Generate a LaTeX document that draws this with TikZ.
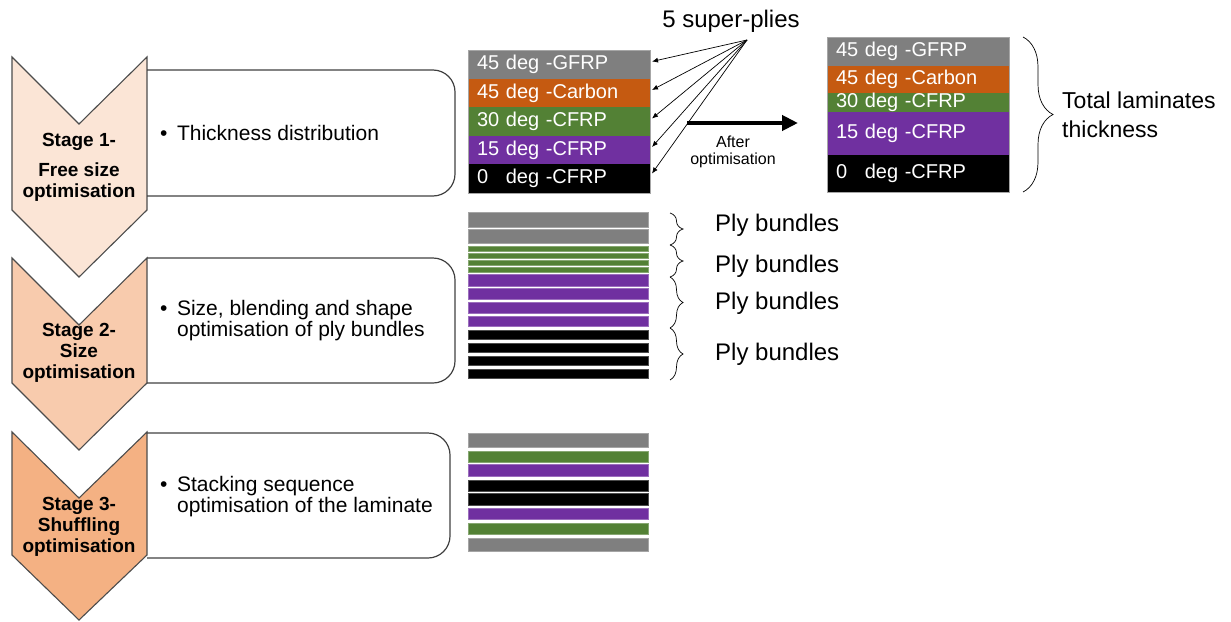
\documentclass[tikz,border=0pt]{standalone}
\usepackage{fontspec}
\setmainfont{Liberation Sans}
\usepackage{tikz}
\usetikzlibrary{arrows.meta, positioning, decorations.pathreplacing}
\tikzset{>=latex}

\definecolor{gfrp}{HTML}{7F7F7F}
\definecolor{carbon}{HTML}{C55A11}
\definecolor{cfrpgreen}{HTML}{538135}
\definecolor{cfrppurple}{HTML}{7030A0}
\definecolor{stageone}{HTML}{FBE5D6}
\definecolor{stagetwo}{HTML}{F8CBAD}
\definecolor{stagethree}{HTML}{F4B183}

\tikzset{chevron/.style = {draw=black!70, line width=1.1pt, fill=#1}}
\tikzset{stagebox/.style = {draw=black!75, line width=1.2pt, rounded corners=22pt}}
\tikzset{stagetxt/.style = {align=center, inner sep=0pt, font=\fontsize{19}{21}\selectfont\bfseries}}
\tikzset{bullettxt/.style = {align=left, inner sep=0pt, font=\fontsize{21}{21}\selectfont}}
\tikzset{ply/.style = {fill=#1, text=white, minimum width=182pt, text width=164pt, inner xsep=9pt,
    inner ysep=0pt, outer sep=0pt, text height=14pt, text depth=4pt, align=left,
    font=\fontsize{20}{22}\selectfont}}
\tikzset{bar/.style = {fill=#1, draw=#1!70!white, line width=0.6pt}}
\tikzset{fanarrow/.style = {-{Latex[length=6pt,width=5pt]}, line width=0.7pt}}
\tikzset{bigarrow/.style = {-{Triangle[length=16pt,width=15pt]}, line width=4pt}}
\tikzset{plybrace/.style = {decorate, decoration={brace, amplitude=#1}, line width=0.7pt}}
\tikzset{bundletxt/.style = {anchor=west, inner sep=0pt, font=\fontsize{24}{26}\selectfont}}

\begin{document}
\begin{tikzpicture}[x=1pt, y=-1pt]
\useasboundingbox (0,0) rectangle (1231,621);

% Stage chevrons
\draw[chevron=stageone] (12,57) -- (79,124) -- (147,57) -- (147,210) -- (79,277) -- (12,210) -- cycle;
\draw[chevron=stagetwo] (12,258) -- (79,325) -- (147,258) -- (147,383) -- (79,450) -- (12,383) -- cycle;
\draw[chevron=stagethree] (12,432) -- (79,498) -- (147,432) -- (147,555) -- (79,620) -- (12,555) -- cycle;

% Boxes beside the chevrons
\draw[stagebox] (147,70) -- (455,70) -- (455,196) -- (147,196);
\draw[stagebox] (147,258) -- (455,258) -- (455,383) -- (147,383);
\draw[stagebox] (147,433) -- (450,433) -- (450,558) -- (147,558);

\node[stagetxt] (s1) at (79,167) {Stage 1-\\[9pt]Free size\\optimisation};
\node[stagetxt] (s2) at (79,353) {Stage 2-\\Size\\optimisation};
\node[stagetxt] (s3) at (79,527) {Stage 3-\\Shuffling\\optimisation};

\node[bullettxt, anchor=base west] (t1) at (160,140) {\textbullet\hspace{9.5pt}Thickness distribution};
\node[bullettxt, anchor=west] (t2) at (160,321) {\textbullet\hspace{9.5pt}Size, blending and shape\\\hspace*{16.9pt}optimisation of ply bundles};
\node[bullettxt, anchor=west] (t3) at (160,497) {\textbullet\hspace{9.5pt}Stacking sequence\\\hspace*{16.9pt}optimisation of the laminate};

% Super-plies before optimisation
\node[ply=gfrp, minimum height=29pt, anchor=north] (a1) at (559,50) {45 deg -GFRP};
\node[ply=carbon, minimum height=28pt, below=0pt of a1] (a2) {45 deg -Carbon};
\node[ply=cfrpgreen, minimum height=29pt, below=0pt of a2] (a3) {30 deg -CFRP};
\node[ply=cfrppurple, minimum height=28pt, below=0pt of a3] (a4) {15 deg -CFRP};
\node[ply=black, minimum height=29pt, below=0pt of a4] (a5) {0\hspace{11pt} deg -CFRP};
\draw[gray!70, line width=0.6pt] (a1.north west) rectangle (a5.south east);

\node[font=\fontsize{24}{26}\selectfont, inner sep=0pt] (sp) at (731,21) {5 super-plies};
\coordinate (fan) at (747,40);
\draw[fanarrow] (fan) -- ([xshift=2pt, yshift=3pt]a1.east);
\draw[fanarrow] (fan) -- ([xshift=2pt, yshift=3pt]a2.east);
\draw[fanarrow] (fan) -- ([xshift=2pt, yshift=3pt]a3.east);
\draw[fanarrow] (fan) -- ([xshift=2pt, yshift=3pt]a4.east);
\draw[fanarrow] (fan) -- ([xshift=2pt, yshift=5pt]a5.east);

% Thick arrow to the optimised laminate
\coordinate (ao1) at (687,123);
\coordinate (ao2) at (798,123);
\draw[bigarrow] (ao1) -- (ao2);
\node[align=center, inner sep=0pt, font=\fontsize{16}{17}\selectfont] (after) at (733,152) {After\\optimisation};

% Super-plies after optimisation
\node[ply=gfrp, minimum height=29pt, anchor=north] (c1) at (918,37) {45 deg -GFRP};
\node[ply=carbon, minimum height=27pt, below=0pt of c1] (c2) {45 deg -Carbon};
\node[ply=cfrpgreen, minimum height=19pt, below=0pt of c2] (c3) {30 deg -CFRP};
\node[ply=cfrppurple, minimum height=43pt, below=0pt of c3] (c4) {15 deg -CFRP};
\node[ply=black, minimum height=37pt, below=0pt of c4] (c5) {0\hspace{11pt} deg -CFRP};
\draw[gray!70, line width=0.6pt] (c1.north west) rectangle (c5.south east);

\coordinate (tb1) at (1023,37);
\coordinate (tb2) at (1023,192);
\draw[plybrace=30pt] (tb1) -- (tb2);
\node[align=left, anchor=west, inner sep=0pt, font=\fontsize{23}{29}\selectfont] (tot) at (1062,115) {Total laminates\\thickness};

% Ply bundles
\draw[bar=gfrp] (468,212) rectangle (648,227);
\draw[bar=gfrp] (468,229) rectangle (648,243);
\draw[bar=cfrpgreen] (468,246) rectangle (648,251);
\draw[bar=cfrpgreen] (468,253) rectangle (648,258);
\draw[bar=cfrpgreen] (468,260) rectangle (648,265);
\draw[bar=cfrpgreen] (468,267) rectangle (648,272);
\draw[bar=cfrppurple] (468,274) rectangle (648,286);
\draw[bar=cfrppurple] (468,288) rectangle (648,299);
\draw[bar=cfrppurple] (468,302) rectangle (648,313);
\draw[bar=cfrppurple] (468,316) rectangle (648,326);
\draw[bar=black] (468,330) rectangle (648,339);
\draw[bar=black] (468,343) rectangle (648,352);
\draw[bar=black] (468,356) rectangle (648,365);
\draw[bar=black] (468,369) rectangle (648,378);

\coordinate (br0) at (670,213);
\coordinate (br1) at (670,245);
\coordinate (br2) at (670,277);
\coordinate (br3) at (670,328);
\coordinate (br4) at (670,380);
\draw[plybrace=13pt] (br0) -- (br1);
\draw[plybrace=13pt] (br1) -- (br2);
\draw[plybrace=13pt] (br2) -- (br3);
\draw[plybrace=13pt] (br3) -- (br4);

\node[bundletxt] (pb1) at (715,225) {Ply bundles};
\node[bundletxt] (pb2) at (715,266) {Ply bundles};
\node[bundletxt] (pb3) at (715,303) {Ply bundles};
\node[bundletxt] (pb4) at (715,354) {Ply bundles};

% Shuffled stacking sequence
\draw[bar=gfrp] (468,433) rectangle (648,447);
\draw[bar=cfrpgreen] (468,451) rectangle (648,462);
\draw[bar=cfrppurple] (468,464) rectangle (648,476);
\draw[bar=black] (468,480) rectangle (648,491);
\draw[bar=black] (468,493) rectangle (648,505);
\draw[bar=cfrppurple] (468,508) rectangle (648,519);
\draw[bar=cfrpgreen] (468,523) rectangle (648,534);
\draw[bar=gfrp] (468,538) rectangle (648,551);
\end{tikzpicture}
\end{document}
